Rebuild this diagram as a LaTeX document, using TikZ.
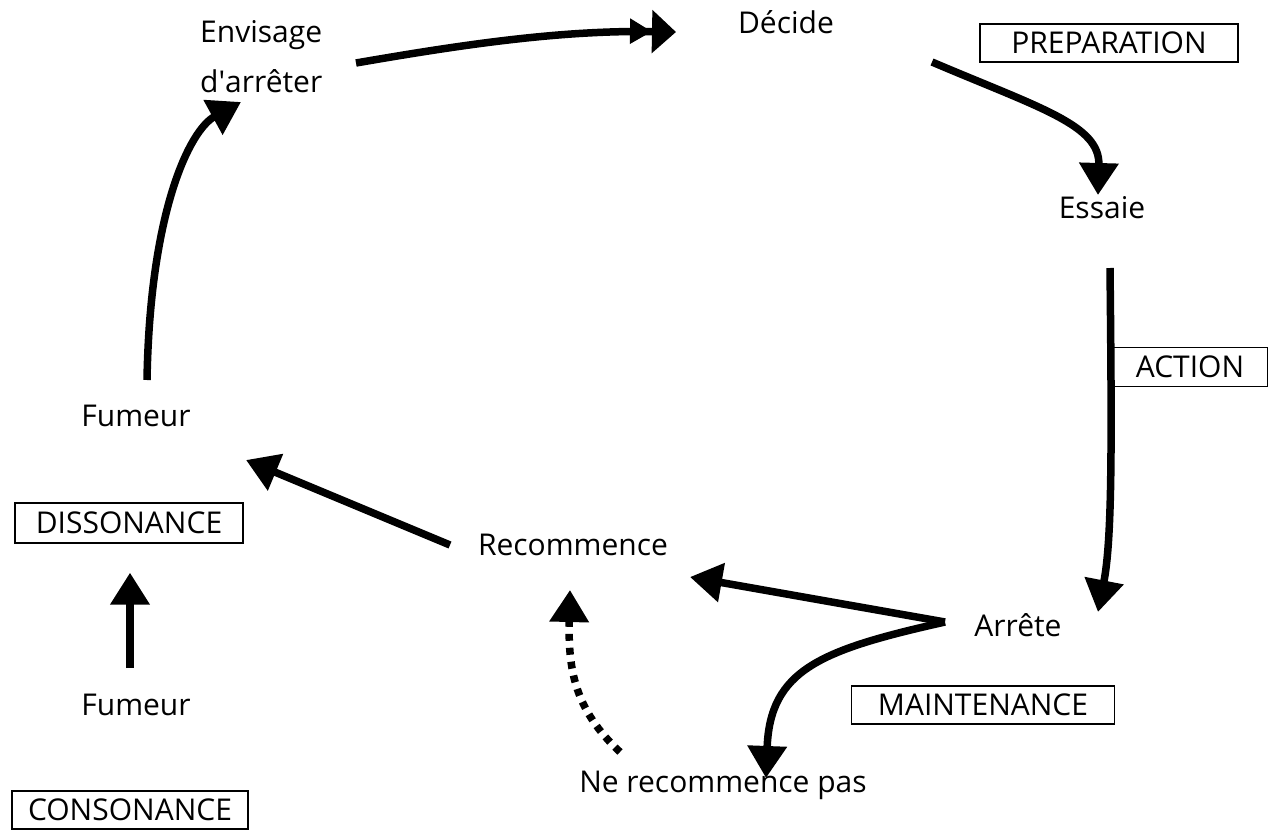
\documentclass[tikz,border=0pt]{standalone}
\usepackage{fontspec}
\setmainfont{Open Sans}
\usetikzlibrary{arrows.meta}
\tikzset{
  stage/.style={font=\fontsize{30}{50}\selectfont, inner sep=3pt},
  phase/.style={draw, line width=1.4pt, inner sep=0pt, font=\fontsize{30}{36}\selectfont},
  link/.style={line width=7.5pt, -{Triangle[length=32pt,width=38pt]}},
  linktwo/.style={line width=7.5pt, -{Triangle[length=22pt,width=24pt]Triangle[length=24pt,width=42pt]}},
}
\begin{document}
\begin{tikzpicture}[x=1pt,y=-1pt]
    \useasboundingbox (0,0) rectangle (1278,830);
    \node[stage, anchor=north west, align=left] (env) at (197,17) {Envisage\\d\textquotesingle arrêter};
    \node[stage, anchor=base] (dec) at (786,33) {Décide};
    \node[stage, anchor=base] (ess) at (1102,218) {Essaie};
    \node[stage, anchor=base] (fumA) at (136,426) {Fumeur};
    \node[stage, anchor=base] (rec) at (573,555) {Recommence};
    \node[stage, anchor=base] (arr) at (1018,636) {Arrête};
    \node[stage, anchor=base] (fumB) at (136,715) {Fumeur};
    \node[stage, anchor=base] (nrp) at (723,792) {Ne recommence pas};
    \node[phase, minimum width=258pt, minimum height=38pt] (prep) at (1109,43) {PREPARATION};
    \node[phase, minimum width=155pt, minimum height=39pt] (act) at (1190,367) {ACTION};
    \node[phase, minimum width=228pt, minimum height=40pt] (diss) at (129,523) {DISSONANCE};
    \node[phase, minimum width=263pt, minimum height=38pt] (maint) at (983,705) {MAINTENANCE};
    \node[phase, minimum width=236pt, minimum height=38pt] (cons) at (130,810) {CONSONANCE};
    \draw[link] ([shift={(11,-46)}]fumA.base) .. controls (150,210) and (190,130) .. ([shift={(44,85)}]env.north west);
    \draw[linktwo] ([shift={(159,46)}]env.north west) .. controls (460,45) and (560,30) .. ([shift={(-110,-1)}]dec.base);
    \draw[link] ([shift={(146,29)}]dec.base) .. controls (1040,108) and (1100,125) .. ([shift={(-4,-23)}]ess.base);
    \draw[link] ([shift={(8,50)}]ess.base) .. controls (1112,450) and (1112,540) .. ([shift={(80,-24)}]arr.base);
    \draw[link] ([shift={(-73,-14)}]arr.base) -- ([shift={(117,22)}]rec.base);
    \draw[link] ([shift={(-73,-14)}]arr.base) .. controls (820,650) and (770,670) .. ([shift={(43,-14)}]nrp.base);
    \draw[link, dash pattern=on 7pt off 7pt] ([shift={(-103,-40)}]nrp.base) .. controls (575,710) and (568,670) .. ([shift={(-3,35)}]rec.base);
    \draw[link] ([shift={(-123,-10)}]rec.base) -- ([shift={(110,34)}]fumA.base);
    \draw[link] ([shift={(-6,-47)}]fumB.base) -- ([shift={(1,29)}]diss.south);
\end{tikzpicture}
\end{document}
